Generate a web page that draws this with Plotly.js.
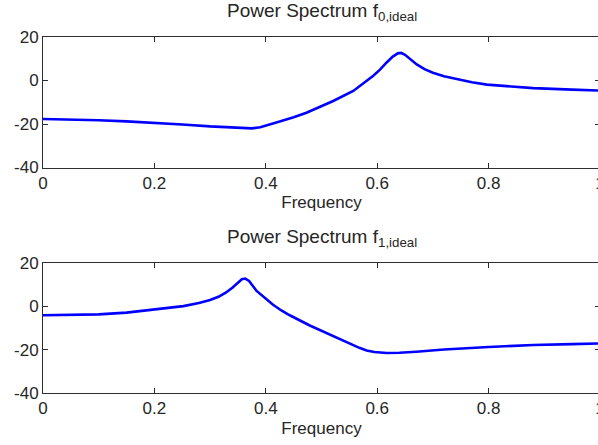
<!DOCTYPE html>
<html>
<head>
<meta charset="utf-8">
<script src="https://cdn.plot.ly/plotly-3.0.1.min.js"></script>
<style>
html,body{margin:0;padding:0;background:#fff;overflow:hidden;width:598px;height:445px;}
#chart{width:640px;height:445px;}
</style>
</head>
<body>
<div id="chart"></div>
<script>
// Power spectrum f0,ideal (top panel)
const freq0 = [0, 0.05, 0.10, 0.15, 0.20, 0.25, 0.30, 0.34, 0.36, 0.375, 0.39, 0.405, 0.425, 0.45, 0.473, 0.521, 0.557, 0.593, 0.605, 0.617, 0.628, 0.637, 0.643, 0.650, 0.660, 0.671, 0.685, 0.70, 0.72, 0.742, 0.77, 0.797, 0.84, 0.88, 0.95, 1.0];
const spec0 = [-17.7, -17.9, -18.3, -18.8, -19.4, -20.2, -21.1, -21.7, -22.0, -22.0, -21.5, -20.5, -18.9, -16.9, -14.8, -9.4, -4.8, 2.2, 5.0, 8.3, 11.0, 12.5, 12.7, 11.8, 9.6, 7.4, 5.2, 3.6, 2.0, 0.7, -0.8, -1.9, -2.9, -3.5, -4.2, -4.6];
// Power spectrum f1,ideal (bottom panel)
const freq1 = [0, 0.05, 0.10, 0.15, 0.192, 0.225, 0.252, 0.28, 0.30, 0.315, 0.328, 0.34, 0.35, 0.357, 0.363, 0.370, 0.3835, 0.40, 0.413, 0.428, 0.443, 0.479, 0.515, 0.551, 0.568, 0.581, 0.595, 0.617, 0.64, 0.67, 0.72, 0.80, 0.88, 0.95, 1.0];
const spec1 = [-4.2, -4.0, -3.8, -3.0, -1.8, -0.9, 0.0, 1.4, 2.8, 4.3, 6.2, 8.5, 10.8, 12.4, 12.7, 11.6, 7.0, 3.2, 0.6, -2.0, -4.2, -8.9, -13.2, -17.4, -19.2, -20.4, -21.1, -21.6, -21.5, -21.0, -20.0, -18.8, -17.9, -17.5, -17.2];

const xTicks = [0, 0.2, 0.4, 0.6, 0.8, 1];
const xTickText = ['0', '0.2', '0.4', '0.6', '0.8', '1'];
const yTicks = [-40, -20, 0, 20];
const yTickText = ['-40', '-20', '0', '20'];
const titles = ['Power Spectrum f<sub>0,ideal</sub>', 'Power Spectrum f<sub>1,ideal</sub>'];
const xLabel = 'Frequency';

const FONT = 'Liberation Sans, Arial, Helvetica, sans-serif';
const lineColor = '#2e2e2e';
const textColor = '#262626';

const traces = [
  {x: freq0, y: spec0, type: 'scatter', mode: 'lines', line: {color: '#0000ff', width: 2.6}, xaxis: 'x', yaxis: 'y', hoverinfo: 'skip'},
  {x: freq1, y: spec1, type: 'scatter', mode: 'lines', line: {color: '#0000ff', width: 2.6}, xaxis: 'x2', yaxis: 'y2', hoverinfo: 'skip'}
];

function xax(anchor) {
  return {
    anchor: anchor, domain: [0, 1], range: [0, 1],
    tickmode: 'array', tickvals: xTicks, ticktext: xTickText,
    ticks: 'inside', ticklen: 5, tickwidth: 1, tickcolor: lineColor,
    mirror: 'ticks', showline: true, linecolor: lineColor, linewidth: 1,
    showgrid: false, zeroline: false,
    tickfont: {family: FONT, size: 17, color: textColor},
    title: {text: xLabel, font: {family: FONT, size: 17, color: textColor}, standoff: 4}
  };
}
function yax(anchor, domain) {
  return {
    anchor: anchor, domain: domain, range: [-40, 20],
    tickmode: 'array', tickvals: yTicks, ticktext: yTickText,
    ticks: 'inside', ticklen: 5, tickwidth: 1, tickcolor: lineColor,
    mirror: 'ticks', showline: true, linecolor: lineColor, linewidth: 1,
    showgrid: false, zeroline: false,
    tickfont: {family: FONT, size: 17, color: textColor}
  };
}

const layout = {
  width: 640, height: 445,
  margin: {l: 43, r: 40, t: 37, b: 52},
  paper_bgcolor: '#ffffff', plot_bgcolor: '#ffffff',
  showlegend: false,
  xaxis: xax('y'),
  yaxis: yax('x', [0.6334, 1]),
  xaxis2: xax('y2'),
  yaxis2: yax('x2', [0, 0.366]),
  annotations: [
    {text: titles[0], xref: 'paper', yref: 'paper', x: 0.5, y: 1, xanchor: 'center', yanchor: 'bottom', yshift: 11, showarrow: false, font: {family: FONT, size: 19, color: textColor}},
    {text: titles[1], xref: 'paper', yref: 'paper', x: 0.5, y: 0.366, xanchor: 'center', yanchor: 'bottom', yshift: 11, showarrow: false, font: {family: FONT, size: 19, color: textColor}}
  ]
};

Plotly.newPlot('chart', traces, layout, {staticPlot: true, displayModeBar: false});
</script>
</body>
</html>
